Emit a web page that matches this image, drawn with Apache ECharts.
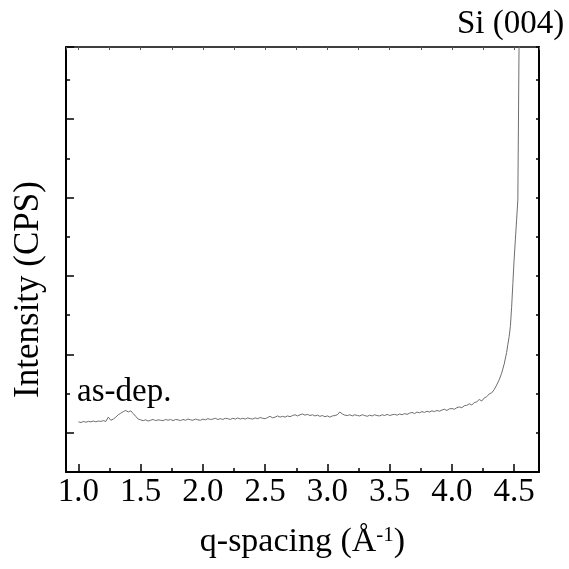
<!DOCTYPE html>
<html>
<head>
<meta charset="utf-8">
<script src="https://cdn.jsdelivr.net/npm/echarts@6/dist/echarts.min.js"></script>
<style>
html,body{margin:0;padding:0;background:#fff;}
#chart{width:569px;height:569px;}
</style>
</head>
<body>
<div id="chart"></div>
<script>
// q-spacing (1/Å)
const qValues = [
1.00,1.02,1.04,1.06,1.08,1.10,1.12,1.14,1.16,1.18,
1.20,1.22,1.24,1.26,1.28,1.30,1.32,1.34,1.36,1.38,
1.40,1.42,1.44,1.46,1.48,1.50,1.52,1.54,1.56,1.58,
1.60,1.62,1.64,1.66,1.68,1.70,1.72,1.74,1.76,1.78,
1.80,1.82,1.84,1.86,1.88,1.90,1.92,1.94,1.96,1.98,
2.00,2.02,2.04,2.06,2.08,2.10,2.12,2.14,2.16,2.18,
2.20,2.22,2.24,2.26,2.28,2.30,2.32,2.34,2.36,2.38,
2.40,2.42,2.44,2.46,2.48,2.50,2.52,2.54,2.56,2.58,
2.60,2.62,2.64,2.66,2.68,2.70,2.72,2.74,2.76,2.78,
2.80,2.82,2.84,2.86,2.88,2.90,2.92,2.94,2.96,2.98,
3.00,3.02,3.04,3.06,3.08,3.10,3.12,3.14,3.16,3.18,
3.20,3.22,3.24,3.26,3.28,3.30,3.32,3.34,3.36,3.38,
3.40,3.42,3.44,3.46,3.48,3.50,3.52,3.54,3.56,3.58,
3.60,3.62,3.64,3.66,3.68,3.70,3.72,3.74,3.76,3.78,
3.80,3.82,3.84,3.86,3.88,3.90,3.92,3.94,3.96,3.98,
4.00,4.02,4.04,4.06,4.08,4.10,4.12,4.14,4.16,4.18,
4.20,4.22,4.24,4.26,4.28,4.30,4.32,4.34,4.36,4.38,
4.40,4.42,4.44,4.45,4.46,4.47,4.48,4.49,4.50,4.51,
4.52,4.53,4.55
];
// Intensity (arbitrary units)
const intensity = [
0.28,0.26,0.29,0.27,0.29,0.28,0.30,0.28,0.30,0.29,
0.31,0.29,0.40,0.32,0.35,0.40,0.46,0.50,0.54,0.57,
0.53,0.56,0.49,0.42,0.35,0.33,0.31,0.33,0.30,0.32,
0.34,0.31,0.33,0.32,0.31,0.34,0.32,0.34,0.31,0.34,
0.33,0.31,0.34,0.32,0.35,0.33,0.32,0.35,0.33,0.32,
0.35,0.33,0.36,0.34,0.35,0.37,0.34,0.36,0.34,0.37,
0.36,0.34,0.37,0.35,0.38,0.35,0.37,0.35,0.38,0.36,
0.35,0.38,0.36,0.39,0.37,0.36,0.39,0.42,0.38,0.40,
0.43,0.40,0.42,0.40,0.43,0.41,0.44,0.46,0.43,0.46,
0.48,0.45,0.47,0.44,0.46,0.43,0.45,0.42,0.44,0.41,
0.43,0.40,0.43,0.44,0.46,0.53,0.48,0.45,0.44,0.46,
0.43,0.46,0.44,0.43,0.46,0.44,0.42,0.45,0.43,0.46,
0.44,0.43,0.46,0.44,0.47,0.44,0.46,0.47,0.45,0.48,
0.46,0.49,0.47,0.50,0.52,0.49,0.53,0.51,0.54,0.52,
0.55,0.53,0.56,0.54,0.57,0.55,0.58,0.60,0.57,0.61,
0.62,0.60,0.64,0.66,0.64,0.69,0.70,0.74,0.71,0.77,
0.79,0.85,0.81,0.89,0.92,0.99,1.02,1.10,1.22,1.35,
1.52,1.75,2.05,2.26,2.45,2.71,3.20,3.81,4.41,4.92,
5.43,5.94,14.0
];
const xTickValues = [1.0,1.5,2.0,2.5,3.0,3.5,4.0,4.5];
const xTickLabels = ['1.0','1.5','2.0','2.5','3.0','3.5','4.0','4.5'];
const annotations = ['as-dep.', 'Si (004)'];

const FONT = '"Liberation Serif", "Times New Roman", serif';
const seriesData = qValues.map((q, i) => [q, intensity[i]]);

const X_MIN = 0.9, X_MAX = 4.7, Y_MIN = -1, Y_MAX = 9.84;
const lineStyle = {color: '#000', width: 2};

const chart = echarts.init(document.getElementById('chart'), null, {renderer: 'canvas'});
chart.setOption({
  animation: false,
  backgroundColor: '#fff',
  grid: {left: 66, right: 30, top: 47, bottom: 97, containLabel: false},
  xAxis: [
    {
      type: 'value', position: 'bottom', min: X_MIN, max: X_MAX,
      splitNumber: 8, minInterval: 0.5, maxInterval: 0.5,
      axisLine: {show: true, onZero: false, lineStyle: lineStyle},
      axisTick: {show: true, inside: true, length: 8, lineStyle: {color: '#000', width: 1.5}},
      axisLabel: {
        show: true, margin: 4, fontFamily: FONT, fontSize: 33, color: '#000',
        showMinLabel: false, showMaxLabel: false,
        formatter: function (v) {
          const i = xTickValues.findIndex(t => Math.abs(t - v) < 1e-6);
          return i >= 0 ? xTickLabels[i] : '';
        }
      },
      splitLine: {show: false},
      name: '{a|q-spacing (Å}{s|-1}{a|)}',
      nameLocation: 'middle', nameGap: 53,
      nameTextStyle: {
        rich: {
          a: {fontFamily: FONT, fontSize: 34, color: '#000'},
          s: {fontFamily: FONT, fontSize: 21, color: '#000', verticalAlign: 'top'}
        }
      }
    },
    {
      type: 'value', position: 'bottom', min: X_MIN, max: X_MAX,
      splitNumber: 15, minInterval: 0.25, maxInterval: 0.25,
      axisLine: {show: false, onZero: false},
      axisTick: {show: true, inside: true, length: 4, lineStyle: {color: '#000', width: 1.5}},
      axisLabel: {show: false}, splitLine: {show: false}
    },
    {
      type: 'value', position: 'top', min: X_MIN, max: X_MAX,
      splitNumber: 15, minInterval: 0.25, maxInterval: 0.25,
      axisLine: {show: true, onZero: false, lineStyle: {color: '#000', width: 1.5}},
      axisTick: {show: true, inside: true, length: 3, lineStyle: {color: '#555', width: 1}},
      axisLabel: {show: false}, splitLine: {show: false}
    }
  ],
  yAxis: [
    {
      type: 'value', position: 'left', min: Y_MIN, max: Y_MAX, interval: 1,
      axisLine: {show: true, onZero: false, lineStyle: lineStyle},
      axisTick: {show: true, inside: true, length: 4, lineStyle: {color: '#000', width: 1.5}},
      axisLabel: {show: false}, splitLine: {show: false},
      name: 'Intensity (CPS)', nameLocation: 'middle', nameGap: 20,
      nameTextStyle: {fontFamily: FONT, fontSize: 35, color: '#000', padding: [0, 60, 0, 0]}
    },
    {
      type: 'value', position: 'left', min: Y_MIN, max: Y_MAX,
      splitNumber: 5, minInterval: 2, maxInterval: 2,
      axisLine: {show: false, onZero: false},
      axisTick: {show: true, inside: true, length: 8, lineStyle: {color: '#000', width: 1.5}},
      axisLabel: {show: false}, splitLine: {show: false}
    },
    {
      type: 'value', position: 'right', min: Y_MIN, max: Y_MAX, interval: 1,
      axisLine: {show: true, onZero: false, lineStyle: lineStyle},
      axisTick: {show: true, inside: true, length: 3, lineStyle: {color: '#000', width: 1.5}},
      axisLabel: {show: false}, splitLine: {show: false}
    }
  ],
  series: [{
    type: 'line', xAxisIndex: 0, yAxisIndex: 0,
    data: seriesData, showSymbol: false, symbol: 'none',
    lineStyle: {color: '#6e6e6e', width: 1}, clip: true
  }],
  graphic: [
    {type: 'text', left: 77, top: 376, style: {text: annotations[0], font: '33px ' + FONT, fill: '#000'}},
    {type: 'text', left: 457, top: 8, style: {text: annotations[1], font: '33px ' + FONT, fill: '#000'}}
  ]
});
</script>
</body>
</html>
